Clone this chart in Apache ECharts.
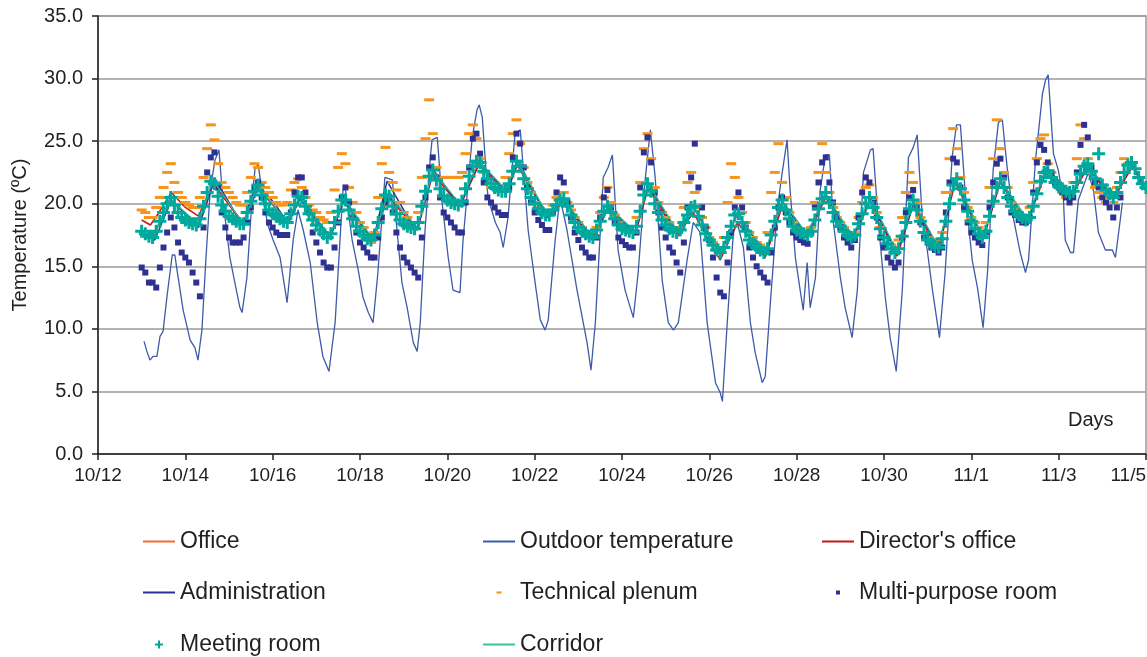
<!DOCTYPE html>
<html>
<head>
<meta charset="utf-8">
<script src="https://cdn.jsdelivr.net/npm/echarts@6/dist/echarts.min.js"></script>
<style>
html,body{margin:0;padding:0;background:#fff;}
#chart{width:1147px;height:657px;}
</style>
</head>
<body>
<div id="chart"></div>
<script>
// x axis: days counted from 10/12 00:00, a tick every two days
const xTickLabels = ['10/12','10/14','10/16','10/18','10/20','10/22','10/24','10/26','10/28','10/30','11/1','11/3','11/5'];

// Logged room series: one reading every 2 hours from 10/13 00:00
const logStartDay = 1;
const logStepDay = 1 / 12;

const meetingRoom = [
  17.8,17.6,17.4,17.3,17.8,18.6,19.3,20.0,20.5,19.9,19.3,18.9,
  18.7,18.5,18.4,18.3,18.8,19.8,20.9,21.8,21.6,20.6,19.9,19.4,
  19.0,18.8,18.6,18.4,18.4,19.3,20.2,21.0,21.5,20.7,20.0,19.5,
  19.2,19.0,18.8,18.6,18.5,19.2,19.9,20.6,20.5,19.8,19.2,18.7,
  18.3,17.9,17.6,17.3,17.6,18.5,19.4,20.3,20.3,19.5,18.8,18.2,
  17.8,17.5,17.2,17.1,17.5,18.5,19.6,20.7,20.6,19.8,19.2,18.7,
  18.4,18.2,18.1,18.0,18.5,19.8,21.0,22.2,22.7,21.9,21.2,20.6,
  20.3,20.1,20.0,19.9,20.2,21.2,22.2,23.0,23.4,23.3,22.6,22.0,
  21.6,21.3,21.1,21.0,21.0,21.6,22.6,23.4,23.0,22.0,21.2,20.5,
  20.0,19.6,19.3,19.1,19.1,19.5,19.9,20.3,20.4,19.8,19.1,18.5,
  18.1,17.8,17.6,17.4,17.3,17.9,18.6,19.4,19.8,19.3,18.8,18.3,
  18.0,17.9,17.8,17.7,18.2,19.4,20.7,21.6,21.0,20.0,19.3,18.7,
  18.3,18.0,17.8,17.7,17.9,18.5,19.1,19.7,19.8,19.0,18.3,17.6,
  17.1,16.7,16.3,16.1,16.5,17.3,18.2,19.1,19.2,18.5,17.8,17.1,
  16.8,16.5,16.3,16.1,16.4,17.5,18.6,19.7,20.3,19.5,18.8,18.2,
  17.9,17.7,17.6,17.5,17.8,18.7,19.6,20.4,20.9,20.1,19.3,18.6,
  18.2,17.8,17.5,17.3,17.5,18.4,19.2,20.0,20.5,19.7,18.9,18.0,
  17.3,16.8,16.4,16.1,16.4,17.4,18.5,19.6,20.3,19.5,18.6,17.7,
  17.1,16.8,16.6,16.5,17.2,18.6,20.0,21.5,22.0,21.2,20.3,19.4,
  18.6,18.0,17.6,17.3,17.8,19.0,20.2,21.3,22.0,21.3,20.5,19.8,
  19.4,19.1,18.9,18.7,18.9,19.8,20.8,21.8,22.5,22.6,22.1,21.7,
  21.4,21.2,21.0,20.9,21.0,21.7,22.4,23.0,23.2,22.6,22.0,24.0,
  21.5,21.1,20.8,20.5,20.9,21.7,22.5,23.1,23.3,22.8,22.1,21.6,
  21.3
];

const multiPurposeRoom = [
  14.9,14.5,13.7,13.7,13.3,14.9,16.5,17.7,18.9,18.1,16.9,16.1,
  15.7,15.3,14.5,13.7,12.6,18.1,22.5,23.7,24.1,21.3,19.3,18.1,
  17.3,16.9,16.9,16.9,17.3,18.5,19.7,21.3,21.7,20.5,19.3,18.5,
  18.1,17.7,17.5,17.5,17.5,19.3,20.9,22.1,22.1,20.9,19.3,17.7,
  16.9,16.1,15.3,14.9,14.9,16.5,18.5,20.5,21.3,20.1,18.9,17.7,
  16.9,16.5,16.1,15.7,15.7,17.3,18.9,20.1,20.5,19.3,17.7,16.5,
  15.7,15.3,14.9,14.5,14.1,17.3,20.5,22.9,23.7,22.1,20.5,19.3,
  18.9,18.5,18.1,17.7,17.7,20.1,22.9,25.2,25.6,24.0,21.7,20.5,
  20.1,19.7,19.3,19.1,19.1,21.3,23.7,25.6,24.8,22.9,21.3,20.1,
  19.3,18.7,18.3,17.9,17.9,19.3,20.9,22.1,21.7,20.1,18.9,17.7,
  17.1,16.5,16.1,15.7,15.7,17.3,18.9,20.5,21.1,19.7,18.5,17.3,
  17.0,16.7,16.5,16.5,17.7,21.3,24.1,25.3,23.3,20.9,19.3,18.1,
  17.3,16.5,16.1,15.3,14.5,16.9,19.7,22.1,24.8,21.3,19.7,18.1,
  17.1,15.7,14.1,12.9,12.6,15.3,17.7,19.7,20.9,19.7,18.1,16.5,
  15.7,15.0,14.5,14.1,13.7,16.1,18.1,19.7,20.5,19.3,18.5,17.7,
  17.3,17.1,16.9,16.8,17.7,19.7,21.7,23.3,23.7,21.7,20.1,18.9,
  18.1,17.3,16.9,16.5,17.1,18.9,20.9,22.1,21.7,20.1,18.9,17.3,
  16.5,15.7,15.3,14.9,15.3,17.3,19.3,20.5,21.1,19.7,18.5,17.3,
  16.9,16.5,16.3,16.1,16.5,19.3,21.7,23.6,23.3,21.3,19.7,18.5,
  17.7,17.3,16.9,16.7,17.7,19.7,21.7,23.2,23.6,22.1,20.5,19.3,
  19.1,18.7,18.5,18.5,18.9,20.9,23.3,24.7,24.3,23.3,22.5,21.7,
  21.3,20.9,20.5,20.1,20.5,22.5,24.7,26.3,25.3,22.9,21.7,21.3,
  20.5,20.1,19.7,18.9,19.7,20.5
];

const technicalPlenum = [
  19.5,19.3,18.9,18.9,19.7,20.5,21.3,22.5,23.2,21.7,20.9,20.5,
  20.1,19.9,19.7,19.7,20.5,22.1,24.4,26.3,25.1,23.2,21.7,21.3,
  20.9,20.5,20.1,19.9,19.9,20.9,22.1,23.2,22.9,21.7,21.3,20.9,
  20.5,20.1,19.9,19.9,20.1,21.1,21.7,22.0,21.3,20.5,19.9,19.5,
  19.3,18.9,18.7,18.5,19.3,21.1,22.9,24.0,23.2,21.3,20.1,19.3,
  18.5,18.1,17.3,16.9,17.7,20.5,23.2,24.5,22.5,21.7,21.1,20.1,
  19.3,18.9,18.5,18.1,19.3,22.1,25.2,28.3,25.6,22.9,22.1,22.1,
  22.1,22.1,22.1,22.1,22.5,24.0,25.6,26.3,25.2,23.6,22.5,21.7,
  21.3,21.3,21.3,21.3,22.1,24.0,25.6,26.7,24.8,22.9,21.7,20.9,
  20.1,19.7,19.3,19.3,19.3,19.9,20.5,20.9,20.9,20.1,19.5,18.9,
  18.5,18.1,17.7,17.5,17.3,18.1,19.3,20.5,21.3,20.1,19.1,18.5,
  18.1,17.9,17.7,17.7,18.9,21.7,24.4,25.6,23.6,21.3,20.1,19.3,
  18.9,18.5,18.1,17.7,18.1,19.7,21.7,22.5,20.9,19.7,18.9,18.1,
  17.3,16.9,16.5,16.5,17.3,20.1,23.2,22.1,20.5,19.3,18.5,17.7,
  17.3,16.9,16.7,16.5,17.7,20.9,22.5,24.8,21.7,20.5,19.3,18.5,
  18.1,17.7,17.5,17.5,18.1,20.1,22.5,24.8,22.5,20.9,19.7,18.9,
  18.5,18.1,17.7,17.3,17.7,18.9,20.1,21.3,21.5,20.5,19.3,18.1,
  17.3,16.9,16.7,16.5,17.1,18.9,20.9,22.5,21.7,20.1,18.9,17.7,
  17.3,17.1,17.1,17.1,17.7,20.9,23.6,26.0,24.4,22.1,20.9,19.7,
  18.9,18.5,18.1,17.7,18.5,21.3,23.6,26.7,24.4,22.5,21.3,20.1,
  19.7,19.3,18.9,18.9,19.7,21.7,23.6,25.2,25.5,23.2,22.5,21.7,
  21.3,20.9,20.5,20.5,21.7,23.6,26.3,25.2,23.6,22.5,21.3,20.9,
  20.5,20.1,20.1,20.1,21.3,22.5,23.6,23.2
];

// Line series: [day, °C] at the daily turning points
const office = [[1.0,17.7],[1.26,17.3],[1.65,20.4],[2.29,18.2],[2.63,21.8],[3.32,18.3],[3.66,21.4],[4.33,18.5],[4.63,20.6],[5.31,17.3],[5.62,20.4],[6.3,17.1],[6.64,20.8],[7.31,18.0],[7.67,22.6],[8.29,19.9],[8.72,23.3],[9.35,21.0],[9.6,23.3],[10.3,19.0],[10.65,20.4],[11.32,17.3],[11.68,19.8],[12.3,17.7],[12.6,21.6],[13.27,17.7],[13.63,19.8],[14.25,16.1],[14.64,19.2],[15.28,16.1],[15.67,20.2],[16.24,17.5],[16.66,20.8],[17.27,17.3],[17.69,20.4],[18.3,16.1],[18.67,20.2],[19.24,16.5],[19.63,22.0],[20.27,17.3],[20.66,21.9],[21.28,18.7],[21.7,22.6],[22.3,20.8],[22.66,23.1],[23.25,20.5],[23.69,23.2],[23.98,21.3]];

const directorsOffice = [[1.0,18.7],[1.2,18.3],[1.38,19.2],[1.68,20.9],[2.0,19.7],[2.3,19.0],[2.63,21.6],[3.32,18.5],[3.66,21.2],[4.33,18.7],[4.63,20.4],[5.31,17.3],[5.62,20.2],[6.3,17.0],[6.64,20.6],[7.31,17.9],[7.67,22.4],[8.29,19.8],[8.72,23.1],[9.35,20.8],[9.6,23.1],[10.3,18.9],[10.65,20.2],[11.32,17.1],[11.68,19.6],[12.3,17.5],[12.6,21.3],[13.27,17.4],[13.63,19.3],[14.25,15.5],[14.64,18.5],[15.28,15.7],[15.67,19.8],[16.24,17.2],[16.66,20.5],[17.27,17.1],[17.69,20.2],[18.3,15.8],[18.67,19.9],[19.24,16.2],[19.63,21.7],[20.27,17.1],[20.66,21.7],[21.28,18.5],[21.7,22.4],[22.3,20.6],[22.66,22.9],[23.25,20.3],[23.69,23.0],[23.98,21.1]];

const administration = [[1.0,17.6],[1.3,17.1],[1.68,20.3],[2.3,18.1],[2.68,22.0],[3.32,18.2],[3.68,21.5],[4.05,20.0],[4.35,18.4],[4.66,20.6],[5.31,17.2],[5.64,20.4],[6.3,17.0],[6.62,21.8],[7.0,19.5],[7.31,17.9],[7.68,22.7],[8.29,19.8],[8.72,23.4],[9.35,20.9],[9.62,23.4],[10.3,18.9],[10.65,20.4],[11.32,17.2],[11.68,19.8],[12.3,17.6],[12.6,21.6],[13.27,17.6],[13.63,19.8],[14.25,15.9],[14.64,19.2],[15.28,16.0],[15.67,20.2],[16.24,17.4],[16.66,20.8],[17.27,17.2],[17.69,20.4],[18.3,16.0],[18.67,20.2],[19.24,16.4],[19.63,22.0],[20.27,17.2],[20.66,21.9],[21.28,18.6],[21.72,22.9],[22.3,20.7],[22.66,23.1],[23.25,20.4],[23.69,23.2],[23.98,21.2]];

const corridor = [[1.0,17.9],[1.26,17.4],[1.65,20.4],[2.29,18.4],[2.63,21.9],[3.32,18.4],[3.66,21.4],[4.33,18.6],[4.63,20.6],[5.31,17.4],[5.62,20.4],[6.3,17.2],[6.64,20.8],[7.31,18.1],[7.67,22.6],[8.29,20.0],[8.72,23.4],[9.35,21.1],[9.6,23.4],[10.3,19.1],[10.65,20.4],[11.32,17.4],[11.68,19.8],[12.3,17.8],[12.6,21.6],[13.27,17.8],[13.63,19.8],[14.25,16.2],[14.64,19.2],[15.28,16.2],[15.67,20.2],[16.24,17.6],[16.66,20.8],[17.27,17.4],[17.69,20.4],[18.3,16.2],[18.67,20.2],[19.24,16.6],[19.63,22.0],[20.27,17.4],[20.66,21.9],[21.28,18.8],[21.7,22.6],[22.3,20.9],[22.66,23.1],[23.25,20.6],[23.69,23.2],[24.0,21.3]];

const outdoorTemperature = [
  [1.054,9.0],[1.12,8.2],[1.19,7.5],[1.26,7.8],[1.35,7.8],[1.42,9.4],[1.49,9.8],[1.58,12.6],[1.70,15.9],[1.76,15.9],[1.81,14.7],[1.95,11.5],
  [2.11,9.1],[2.22,8.5],[2.29,7.5],[2.38,9.9],[2.47,15.5],[2.57,21.1],[2.68,23.5],[2.77,24.3],[2.86,20.3],
  [3.02,15.7],[3.18,12.9],[3.25,11.7],[3.30,11.3],[3.41,14.1],[3.53,20.5],[3.60,22.9],[3.67,23.1],[3.78,20.3],[3.89,18.3],
  [4.01,17.1],[4.17,15.7],[4.33,12.1],[4.47,17.1],[4.58,19.5],[4.70,17.9],[4.86,15.3],
  [5.02,10.5],[5.15,7.8],[5.29,6.6],[5.43,10.5],[5.61,21.1],[5.66,21.3],[5.82,17.1],[5.96,14.7],
  [6.07,12.5],[6.19,11.3],[6.30,10.5],[6.41,14.5],[6.57,22.1],[6.74,21.9],[6.96,13.7],
  [7.08,11.7],[7.22,8.9],[7.31,8.2],[7.38,10.5],[7.49,17.9],[7.61,23.7],[7.65,25.1],[7.77,25.3],[7.88,20.1],
  [8.02,15.7],[8.13,13.1],[8.29,12.9],[8.36,17.1],[8.57,25.3],[8.68,27.5],[8.73,27.9],[8.80,26.9],[8.93,20.5],
  [9.10,18.5],[9.21,17.7],[9.28,16.5],[9.39,18.9],[9.55,25.6],[9.67,25.9],[9.85,17.9],
  [10.01,13.7],[10.13,10.7],[10.24,9.9],[10.31,10.7],[10.47,17.1],[10.58,20.5],[10.74,17.9],[10.97,13.1],
  [11.20,8.9],[11.29,6.7],[11.39,10.5],[11.57,22.1],[11.68,22.9],[11.78,23.9],[11.91,16.3],
  [12.07,13.1],[12.19,11.7],[12.26,10.9],[12.37,14.5],[12.53,21.9],[12.65,25.9],[12.76,22.1],[12.92,13.9],
  [13.06,10.5],[13.18,9.9],[13.29,10.5],[13.50,15.7],[13.63,18.5],[13.79,17.7],[13.95,10.5],
  [14.14,5.7],[14.25,4.9],[14.30,4.2],[14.41,10.5],[14.55,17.7],[14.64,18.5],[14.78,16.5],[14.94,10.5],
  [15.05,8.1],[15.21,5.7],[15.28,6.2],[15.39,11.7],[15.56,19.7],[15.67,22.5],[15.78,25.1],[15.85,21.1],[15.97,15.7],
  [16.08,13.1],[16.15,11.5],[16.24,15.3],[16.31,11.7],[16.43,14.1],[16.54,21.1],[16.66,23.9],[16.75,23.9],[16.84,18.5],
  [17.00,14.1],[17.11,11.7],[17.27,9.3],[17.39,13.1],[17.53,22.5],[17.69,24.3],[17.75,24.4],[17.87,18.5],
  [18.03,12.5],[18.14,9.3],[18.28,6.6],[18.42,13.1],[18.56,23.7],[18.67,24.5],[18.76,25.5],[18.88,18.7],[18.99,16.3],
  [19.11,13.1],[19.27,9.3],[19.40,14.5],[19.56,23.7],[19.66,26.3],[19.75,26.3],[19.86,20.9],
  [20.02,15.5],[20.14,13.3],[20.27,10.1],[20.37,14.5],[20.50,22.7],[20.62,26.5],[20.71,26.7],[20.82,22.9],[20.96,18.9],
  [21.12,16.1],[21.24,14.5],[21.31,15.5],[21.47,23.5],[21.63,28.8],[21.70,29.9],[21.76,30.3],[21.88,24.0],[21.99,22.7],
  [22.11,20.3],[22.15,17.1],[22.27,16.1],[22.34,16.1],[22.45,20.3],[22.68,22.5],[22.80,21.0],[22.91,17.7],
  [23.07,16.3],[23.23,16.3],[23.30,15.7],[23.41,18.7],[23.46,20.1]
];

// Turn a 2-hourly log into [day, value] pairs on the shared time axis
function onTimeAxis(values) {
  return values.map((v, i) => [logStartDay + i * logStepDay, v]);
}

const FONT = '"Liberation Sans", Arial, sans-serif';
const PLUS = 'path://M5,0H8V5H13V8H8V13H5V8H0V5H5Z';

// Legend icons sit centred in a 32 px slot; the zero-length end points keep the slot width
const ICON_LINE = 'path://M0,0H32V2H0Z';
const ICON_DASH = 'path://M0,1L0,1M13.5,0H18.5V2.2H13.5ZM32,1L32,1';
const ICON_SQUARE = 'path://M0,2L0,2M14,0H18V4H14ZM32,2L32,2';
const ICON_PLUS = 'path://M0,4L0,4M15,0H17V3H20V5H17V8H15V5H12V3H15ZM32,4L32,4';

const C = {
  office: '#F26A35',
  outdoor: '#3D5BA9',
  director: '#C4161C',
  admin: '#2E3192',
  plenum: '#F7941D',
  multi: '#2E3192',
  meeting: '#00A99D',
  corridor: '#3FBF98'
};

const chart = echarts.init(document.getElementById('chart'), null, {renderer: 'canvas'});

function legendItem(name, left, top, icon, h) {
  return {
    data: [{name: name, icon: icon}],
    left: left,
    top: top,
    itemWidth: 32,
    itemHeight: h,
    itemGap: 0,
    padding: 0,
    selectedMode: false,
    textStyle: {fontFamily: FONT, fontSize: 23, color: '#231F20'}
  };
}

const rowTop = [530, 581, 633];
const colLeft = [143, 483, 822];

chart.setOption({
  animation: false,
  backgroundColor: '#ffffff',
  grid: {
    left: 98, top: 16, width: 1048, height: 438,
    outerBoundsMode: 'none', containLabel: false,
    show: true, borderColor: '#9a9a9a', borderWidth: 1.5, backgroundColor: 'transparent'
  },
  xAxis: {
    type: 'value', min: 0, max: 24, interval: 2,
    axisLine: {show: true, lineStyle: {color: '#231F20', width: 1.5}},
    axisTick: {show: true, length: 6, lineStyle: {color: '#231F20', width: 1.5}},
    splitLine: {show: false},
    axisLabel: {
      fontFamily: FONT, fontSize: 19, color: '#231F20', margin: 12,
      alignMaxLabel: 'right',
      formatter: v => xTickLabels[Math.round(v / 2)]
    }
  },
  yAxis: {
    type: 'value', min: 0, max: 35, interval: 5,
    name: 'Temperature (ºC)', nameLocation: 'middle', nameGap: 68, nameRotate: 90,
    nameTextStyle: {fontFamily: FONT, fontSize: 20, color: '#231F20'},
    axisLine: {show: true, lineStyle: {color: '#231F20', width: 1.5}},
    axisTick: {show: true, length: 6, lineStyle: {color: '#231F20', width: 1.5}},
    splitLine: {show: true, lineStyle: {color: '#9a9a9a', width: 1.5}},
    axisLabel: {
      fontFamily: FONT, fontSize: 20, color: '#231F20', margin: 15,
      formatter: v => v.toFixed(1)
    }
  },
  graphic: [{
    type: 'text', left: 1068, top: 410,
    style: {text: 'Days', fontFamily: FONT, fontSize: 20, fill: '#231F20'}
  }],
  legend: [
    legendItem('Office', colLeft[0], rowTop[0], ICON_LINE, 2),
    legendItem('Administration', colLeft[0], rowTop[1], ICON_LINE, 2),
    legendItem('Meeting room', colLeft[0], rowTop[2], ICON_PLUS, 8),
    legendItem('Outdoor temperature', colLeft[1], rowTop[0], ICON_LINE, 2),
    legendItem('Technical plenum', colLeft[1], rowTop[1], ICON_DASH, 2.2),
    legendItem('Corridor', colLeft[1], rowTop[2], ICON_LINE, 2),
    legendItem("Director's office", colLeft[2], rowTop[0], ICON_LINE, 2),
    legendItem('Multi-purpose room', colLeft[2], rowTop[1], ICON_SQUARE, 4)
  ],
  // stacking: room lines and outdoor at the back, then dashes, squares, corridor, pluses
  series: [
    {name: 'Office', type: 'line', z: 2, data: office, symbol: 'none',
     lineStyle: {color: C.office, width: 1.5}, itemStyle: {color: C.office}},
    {name: 'Outdoor temperature', type: 'line', z: 2, data: outdoorTemperature, symbol: 'none',
     lineStyle: {color: C.outdoor, width: 1.3}, itemStyle: {color: C.outdoor}},
    {name: "Director's office", type: 'line', z: 2, data: directorsOffice, symbol: 'none',
     lineStyle: {color: C.director, width: 1.5}, itemStyle: {color: C.director}},
    {name: 'Administration', type: 'line', z: 2, data: administration, symbol: 'none',
     lineStyle: {color: C.admin, width: 1.5}, itemStyle: {color: C.admin}},
    {name: 'Technical plenum', type: 'scatter', z: 3, data: onTimeAxis(technicalPlenum),
     symbol: 'rect', symbolSize: [10, 3], itemStyle: {color: C.plenum, opacity: 1}},
    {name: 'Multi-purpose room', type: 'scatter', z: 4, data: onTimeAxis(multiPurposeRoom),
     symbol: 'rect', symbolSize: [6, 6], itemStyle: {color: C.multi, opacity: 1}},
    {name: 'Meeting room', type: 'scatter', z: 6, data: onTimeAxis(meetingRoom),
     symbol: PLUS, symbolSize: 13, itemStyle: {color: C.meeting, opacity: 1}},
    {name: 'Corridor', type: 'line', z: 5, data: corridor, symbol: 'none',
     lineStyle: {color: C.corridor, width: 1.2}, itemStyle: {color: C.corridor}}
  ]
});
</script>
</body>
</html>
